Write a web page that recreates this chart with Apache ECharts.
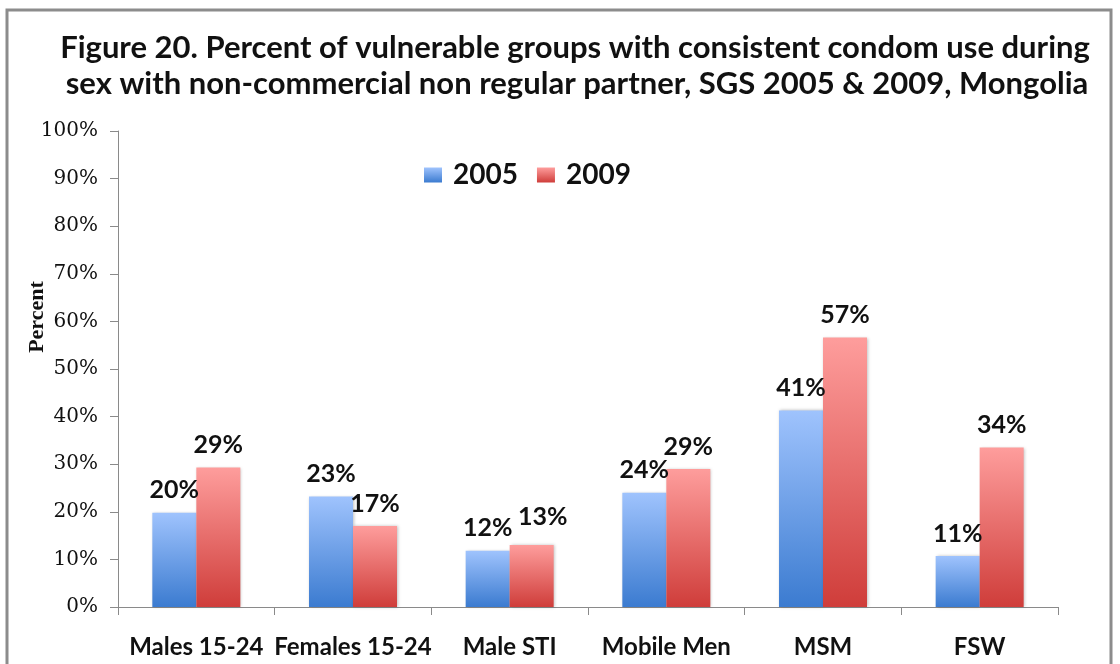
<!DOCTYPE html>
<html><head><meta charset="utf-8">
<script src="https://cdn.jsdelivr.net/npm/echarts@6/dist/echarts.min.js"></script>
<style>html,body{margin:0;padding:0;background:#fff}#c{width:1120px;height:664px}</style>
</head><body><div id="c"></div>
<script>
var titleLines = ['Figure 20. Percent of vulnerable groups with consistent condom use during',
                  'sex with non-commercial non regular partner, SGS 2005 & 2009, Mongolia'];
var categories = ['Males 15-24', 'Females 15-24', 'Male STI', 'Mobile Men', 'MSM', 'FSW'];
var series2005 = [19.8, 23.2, 11.8, 24.0, 41.3, 10.7];
var series2009 = [29.3, 17.0, 13.0, 29.0, 56.6, 33.5];
var labels2005 = ['20%', '23%', '12%', '24%', '41%', '11%'];
var labels2009 = ['29%', '17%', '13%', '29%', '57%', '34%'];
var yTicks = [0, 10, 20, 30, 40, 50, 60, 70, 80, 90, 100];

var chart = echarts.init(document.getElementById('c'));
function grad(top, bottom) {
  return new echarts.graphic.LinearGradient(0, 0, 0, 1, [{offset: 0, color: top}, {offset: 1, color: bottom}]);
}
var blue = grad('#9fc3fd', '#3b7bd0');
var red = grad('#fe9d9c', '#cf3d3a');
var labelFont = {fontFamily: 'Lato', fontWeight: 'bold', fontSize: 25, color: '#111'};
// the "13%" label in the source is nudged right/up to avoid the neighbouring label
var data2009 = series2009.map(function (v, i) {
  return i === 2 ? {value: v, label: {offset: [11, -6]}} : v;
});
var titleStyle = {fontFamily: 'Lato', fontWeight: 'bold', fontSize: 31, fill: '#111', align: 'center', verticalAlign: 'middle'};
chart.setOption({
  animation: false,
  legend: {
    data: ['2005', '2009'], left: 424, top: 161, itemWidth: 18, itemHeight: 15, itemGap: 19,
    icon: 'rect', padding: 0,
    textStyle: {fontFamily: 'Lato', fontWeight: 'bold', fontSize: 28, color: '#111', padding: [0, 0, 0, 6]}
  },
  grid: {left: 118, right: 62, top: 131, bottom: 57, containLabel: false},
  xAxis: {
    type: 'category', data: categories,
    axisLine: {lineStyle: {color: '#8a8a8a', width: 1}},
    axisTick: {show: true, length: 8, lineStyle: {color: '#8a8a8a'}},
    axisLabel: {interval: 0, hideOverlap: false, margin: 28, fontFamily: 'Lato', fontWeight: 'bold', fontSize: 24, color: '#111'}
  },
  yAxis: {
    type: 'value', min: 0, max: 100, interval: 10,
    splitLine: {show: false},
    axisLine: {show: true, lineStyle: {color: '#8a8a8a'}},
    axisTick: {show: true, length: 8, lineStyle: {color: '#8a8a8a'}},
    axisLabel: {margin: 20, formatter: function (v) { return yTicks.indexOf(v) >= 0 ? v + '%' : ''; },
      fontFamily: 'DejaVu Serif', fontSize: 20, color: '#111'}
  },
  graphic: [
    {type: 'rect', shape: {x: 7, y: 10, width: 1104, height: 700}, style: {fill: 'none', stroke: '#8c8c8c', lineWidth: 3}, silent: true},
    {type: 'text', x: 575, y: 48, style: Object.assign({text: titleLines[0]}, titleStyle)},
    {type: 'text', x: 577, y: 84, style: Object.assign({text: titleLines[1]}, titleStyle)},
    {type: 'text', x: 37, y: 317, rotation: Math.PI / 2,
     style: {text: 'Percent', fontFamily: 'Liberation Serif', fontWeight: 'bold', fontSize: 22, fill: '#111', align: 'center', verticalAlign: 'middle'}}
  ],
  series: [
    {name: '2005', type: 'bar', data: series2005, barWidth: 44, barGap: '0%',
     itemStyle: {color: blue, shadowColor: 'rgba(0,0,0,0.25)', shadowBlur: 3, shadowOffsetX: 1},
     label: Object.assign({show: true, position: 'top', distance: 10, formatter: function (p) { return labels2005[p.dataIndex]; }}, labelFont)},
    {name: '2009', type: 'bar', data: data2009, barWidth: 44,
     itemStyle: {color: red, shadowColor: 'rgba(0,0,0,0.25)', shadowBlur: 3, shadowOffsetX: 1},
     label: Object.assign({show: true, position: 'top', distance: 10, formatter: function (p) { return labels2009[p.dataIndex]; }}, labelFont)}
  ]
});
</script></body></html>
